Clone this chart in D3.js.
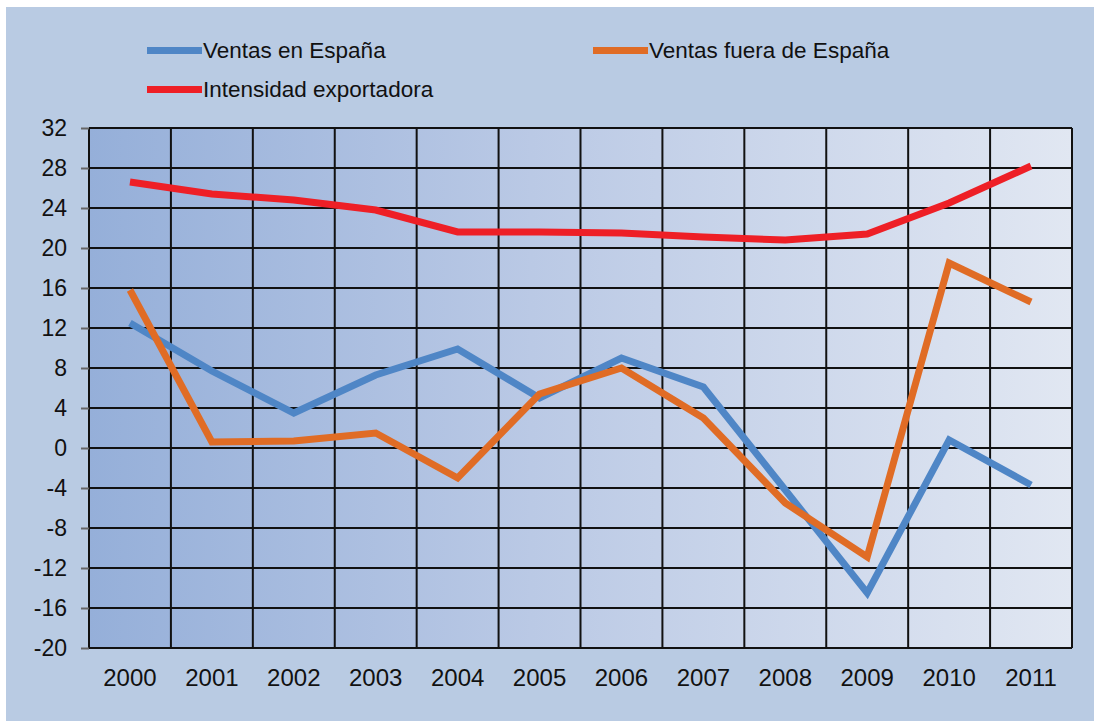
<!DOCTYPE html>
<html>
<head>
<meta charset="utf-8">
<script src="https://cdn.jsdelivr.net/npm/d3@7"></script>
<style>
  body { margin: 0; background: #fff; }
  svg { display: block; font-family: "Liberation Sans", Arial, sans-serif; }
</style>
</head>
<body>
<svg class="chart"></svg>
<script>
// data
const years = ['2000', '2001', '2002', '2003', '2004', '2005', '2006', '2007', '2008', '2009', '2010', '2011']
const ventasEspana = [12.5, 7.7, 3.5, 7.3, 9.9, 5.0, 9.0, 6.1, -4.2, -14.5, 0.8, -3.7]
const ventasFuera = [15.8, 0.6, 0.7, 1.5, -3.0, 5.4, 8.0, 3.0, -5.5, -10.9, 18.5, 14.6]
const intensidad = [26.6, 25.4, 24.8, 23.8, 21.6, 21.6, 21.5, 21.1, 20.8, 21.4, 24.5, 28.2]
const yTicks = [32, 28, 24, 20, 16, 12, 8, 4, 0, -4, -8, -12, -16, -20]

const series = [
    { name: 'Ventas en España', values: ventasEspana, color: '#4f86c6' },
    { name: 'Ventas fuera de España', values: ventasFuera, color: '#e06c25' },
    { name: 'Intensidad exportadora', values: intensidad, color: '#ee1f26' }
]

const width = 1094
const height = 722
const margin = { top: 128, right: 22, bottom: 74, left: 89 }
const font = '"Liberation Sans", Arial, sans-serif'

const svg = d3.select('.chart')
    .attr('width', width)
    .attr('height', height)

// outer panel
svg.append('rect')
    .attr('x', 6).attr('y', 7)
    .attr('width', width - 6).attr('height', height - 8)
    .attr('fill', '#b9cbe3')

const defs = svg.append('defs')
const grad = defs.append('linearGradient')
    .attr('id', 'plotbg')
    .attr('x1', '0%').attr('x2', '100%')
    .attr('y1', '0%').attr('y2', '0%')
grad.append('stop').attr('offset', '0%').attr('stop-color', '#95afd9')
grad.append('stop').attr('offset', '45%').attr('stop-color', '#bac9e5')
grad.append('stop').attr('offset', '100%').attr('stop-color', '#e1e7f2')

const x = d3.scaleBand()
    .domain(years)
    .range([margin.left, width - margin.right])

const y = d3.scaleLinear()
    .domain([-20, 32])
    .range([height - margin.bottom, margin.top])

svg.append('rect')
    .attr('x', margin.left)
    .attr('y', margin.top)
    .attr('width', x.range()[1] - margin.left)
    .attr('height', y(-20) - y(32))
    .attr('fill', 'url(#plotbg)')

// horizontal grid lines
svg.append('g')
    .selectAll('line')
    .data(yTicks)
    .join('line')
    .attr('x1', margin.left)
    .attr('x2', x.range()[1])
    .attr('y1', d => y(d))
    .attr('y2', d => y(d))
    .attr('stroke', '#111')
    .attr('stroke-width', 2)

// vertical grid lines at the band edges
const edges = years.map(d => x(d)).concat([x.range()[1]])
svg.append('g')
    .selectAll('line')
    .data(edges)
    .join('line')
    .attr('x1', d => d)
    .attr('x2', d => d)
    .attr('y1', y(32))
    .attr('y2', y(-20))
    .attr('stroke', '#111')
    .attr('stroke-width', 2)

// y axis (plain hyphen minus like the original)
const yAxis = svg.append('g')
    .attr('transform', `translate(${margin.left},0)`)
    .call(d3.axisLeft(y).tickValues(yTicks).tickFormat(d => String(d)).tickSize(8).tickPadding(14))
yAxis.select('.domain').remove()
yAxis.selectAll('.tick line').attr('stroke', '#666').attr('stroke-width', 2)
yAxis.selectAll('.tick text')
    .attr('font-size', 23)
    .attr('fill', '#111')
    .attr('font-family', font)

// x axis labels
const xAxis = svg.append('g')
    .attr('transform', `translate(0,${y(-20)})`)
    .call(d3.axisBottom(x).tickSize(0).tickPadding(21))
xAxis.select('.domain').remove()
xAxis.selectAll('.tick text')
    .attr('font-size', 24)
    .attr('fill', '#111')
    .attr('font-family', font)

// lines
const line = d3.line()
    .x((d, i) => x(years[i]) + x.bandwidth() / 2)
    .y(d => y(d))

svg.append('g')
    .selectAll('path')
    .data(series)
    .join('path')
    .attr('d', d => line(d.values))
    .attr('fill', 'none')
    .attr('stroke', d => d.color)
    .attr('stroke-width', 7)
    .attr('stroke-linejoin', 'miter')

// legend
const legendPos = [
    { x: 147, y: 50 },
    { x: 593, y: 50 },
    { x: 147, y: 89 }
]
const legend = svg.append('g')
    .selectAll('g')
    .data(series)
    .join('g')
    .attr('transform', (d, i) => `translate(${legendPos[i].x},${legendPos[i].y})`)
legend.append('rect')
    .attr('x', 0).attr('y', -3)
    .attr('width', 55).attr('height', 7)
    .attr('fill', d => d.color)
legend.append('text')
    .attr('x', 56)
    .attr('y', 8)
    .attr('font-size', 22.5)
    .attr('fill', '#111')
    .text(d => d.name)
</script>
</body>
</html>
